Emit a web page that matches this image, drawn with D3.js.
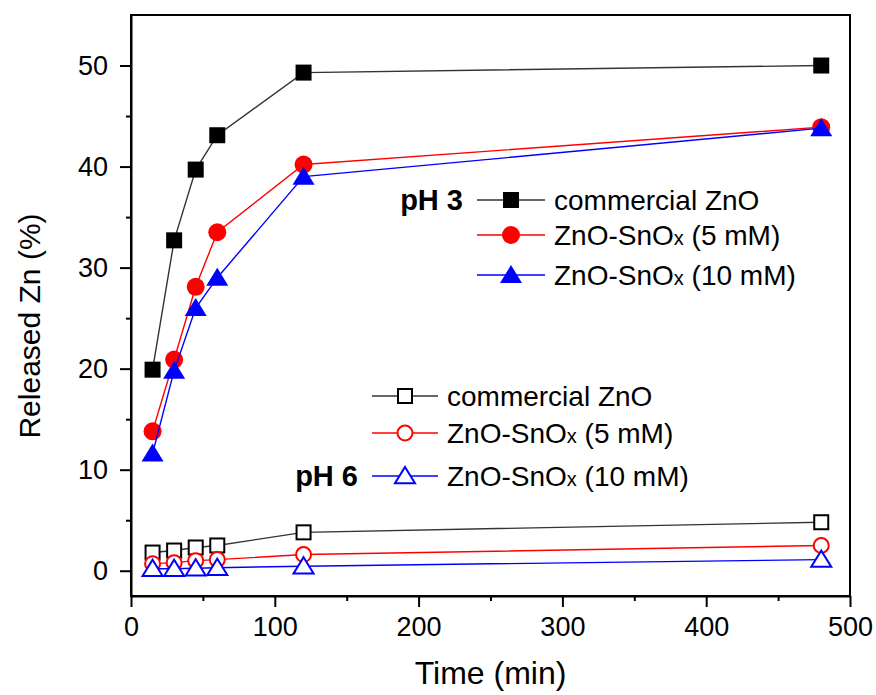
<!DOCTYPE html>
<html>
<head>
<meta charset="utf-8">
<script src="https://cdn.jsdelivr.net/npm/d3@7"></script>
<style>
  body { margin: 0; background: #fff; }
  svg { display: block; font-family: "Liberation Sans", Arial, sans-serif; }
  .axis path, .axis line { stroke: #000; stroke-width: 2; }
  .axis text { font-size: 27px; fill: #000; }
</style>
</head>
<body>
<svg id="chart"></svg>
<script>
// time points (min)
const times = [15, 30, 45, 60, 120, 480];

// pH 3 release (%)
const ph3Commercial = [19.9, 32.7, 39.7, 43.1, 49.3, 50.0];
const ph3Sn5 = [13.8, 20.9, 28.1, 33.5, 40.2, 43.9];
const ph3Sn10 = [11.6, 19.8, 26.0, 29.0, 39.0, 43.8];

// pH 6 release (%)
const ph6Commercial = [1.8, 2.0, 2.3, 2.5, 3.8, 4.8];
const ph6Sn5 = [0.7, 0.8, 1.0, 1.1, 1.6, 2.5];
const ph6Sn10 = [0.2, 0.2, 0.25, 0.3, 0.45, 1.1];

const seriesLabels = ["commercial ZnO", "ZnO-SnOx (5 mM)", "ZnO-SnOx (10 mM)"];
const xTicks = [0, 100, 200, 300, 400, 500];
const yTicks = [0, 10, 20, 30, 40, 50];

const width = 876, height = 695;
const margin = {top: 15, right: 26, bottom: 99, left: 131};

const svg = d3.select('#chart')
    .attr('width', width)
    .attr('height', height);

const x = d3.scaleLinear().domain([0, 500]).range([margin.left, width - margin.right]);
const y = d3.scaleLinear().domain([-2.5, 55]).range([height - margin.bottom, margin.top]);

// minor ticks
svg.append('g')
    .attr('class', 'axis')
    .attr('transform', `translate(0,${height - margin.bottom})`)
    .call(d3.axisBottom(x).tickValues(d3.range(50, 500, 100)).tickSize(5).tickFormat(''))
    .select('.domain').remove();
svg.append('g')
    .attr('class', 'axis')
    .attr('transform', `translate(${margin.left},0)`)
    .call(d3.axisLeft(y).tickValues(d3.range(5, 55, 10)).tickSize(5).tickFormat(''))
    .select('.domain').remove();

// major axes
svg.append('g')
    .attr('class', 'axis')
    .attr('transform', `translate(0,${height - margin.bottom})`)
    .call(d3.axisBottom(x).tickValues(xTicks).tickSize(11).tickPadding(10).tickSizeOuter(0));
svg.append('g')
    .attr('class', 'axis')
    .attr('transform', `translate(${margin.left},0)`)
    .call(d3.axisLeft(y).tickValues(yTicks).tickSize(11).tickPadding(12).tickSizeOuter(0));

// frame
svg.append('rect')
    .attr('x', x(0)).attr('y', y(55))
    .attr('width', x(500) - x(0)).attr('height', y(-2.5) - y(55))
    .attr('fill', 'none').attr('stroke', '#000').attr('stroke-width', 2);

// axis titles
svg.append('text')
    .attr('x', (x(0) + x(500)) / 2).attr('y', 684)
    .attr('text-anchor', 'middle')
    .style('font-size', '32px')
    .text('Time (min)');
svg.append('text')
    .attr('transform', 'translate(40,326) rotate(-90)')
    .attr('text-anchor', 'middle')
    .style('font-size', '30px')
    .text('Released Zn (%)');

const series = [
  {values: ph3Commercial, color: '#000', line: '#333', shape: 'square', filled: true},
  {values: ph3Sn5, color: '#f00', line: '#f00', shape: 'circle', filled: true},
  {values: ph3Sn10, color: '#00f', line: '#00f', shape: 'triangle', filled: true},
  {values: ph6Commercial, color: '#000', line: '#333', shape: 'square', filled: false},
  {values: ph6Sn5, color: '#f00', line: '#f00', shape: 'circle', filled: false},
  {values: ph6Sn10, color: '#00f', line: '#00f', shape: 'triangle', filled: false}
];

function drawMarker(g, s) {
  const fill = s.filled ? s.color : '#fff';
  const sw = s.filled ? 0 : 2;
  if (s.shape === 'square') {
    const sz = s.filled ? 16 : 14;
    g.append('rect').attr('x', -sz / 2).attr('y', -sz / 2).attr('width', sz).attr('height', sz)
      .attr('fill', fill).attr('stroke', s.color).attr('stroke-width', sw);
  } else if (s.shape === 'circle') {
    g.append('circle').attr('r', s.filled ? 9 : 7.5)
      .attr('fill', fill).attr('stroke', s.color).attr('stroke-width', sw);
  } else {
    const w = s.filled ? 11 : 10, h = s.filled ? 10 : 9;
    g.append('path').attr('d', `M0,${-h}L${w},${h * 0.8}L${-w},${h * 0.8}Z`)
      .attr('fill', fill).attr('stroke', s.color).attr('stroke-width', sw)
      .attr('stroke-linejoin', 'miter');
  }
}

const line = d3.line().x(d => x(d[0])).y(d => y(d[1]));

series.forEach(s => {
  const pts = times.map((t, i) => [t, s.values[i]]);
  svg.append('path')
      .attr('d', line(pts))
      .attr('fill', 'none')
      .attr('stroke', s.line)
      .attr('stroke-width', 1.4);
  pts.forEach(p => {
    const g = svg.append('g').attr('transform', `translate(${x(p[0])},${y(p[1])})`);
    drawMarker(g, s);
  });
});

// legends
function legend(title, items, rows, lineX0, lineX1, titleRow) {
  items.forEach((s, i) => {
    const yy = rows[i];
    svg.append('line').attr('x1', lineX0).attr('x2', lineX1).attr('y1', yy).attr('y2', yy)
      .attr('stroke', s.line).attr('stroke-width', 1.4);
    const g = svg.append('g').attr('transform', `translate(${(lineX0 + lineX1) / 2},${yy})`);
    drawMarker(g, s);
    const t = svg.append('text').attr('x', lineX1 + 9).attr('y', yy + 10).style('font-size', '28px');
    const lab = seriesLabels[i];
    if (lab.indexOf('SnOx') >= 0) {
      const parts = lab.split('SnOx');
      t.append('tspan').text(parts[0] + 'SnO');
      t.append('tspan').style('font-size', '20px').text('x');
      t.append('tspan').text(parts[1]);
    } else {
      t.text(lab);
    }
  });
  svg.append('text')
      .attr('x', lineX0 - 14).attr('y', rows[titleRow] + 10)
      .attr('text-anchor', 'end')
      .style('font-size', '29px').style('font-weight', 'bold')
      .text(title);
}

legend('pH 3', series.slice(0, 3), [200, 235, 275], 477, 545, 0);
legend('pH 6', series.slice(3), [396, 433, 476], 372, 438, 2);
</script>
</body>
</html>
